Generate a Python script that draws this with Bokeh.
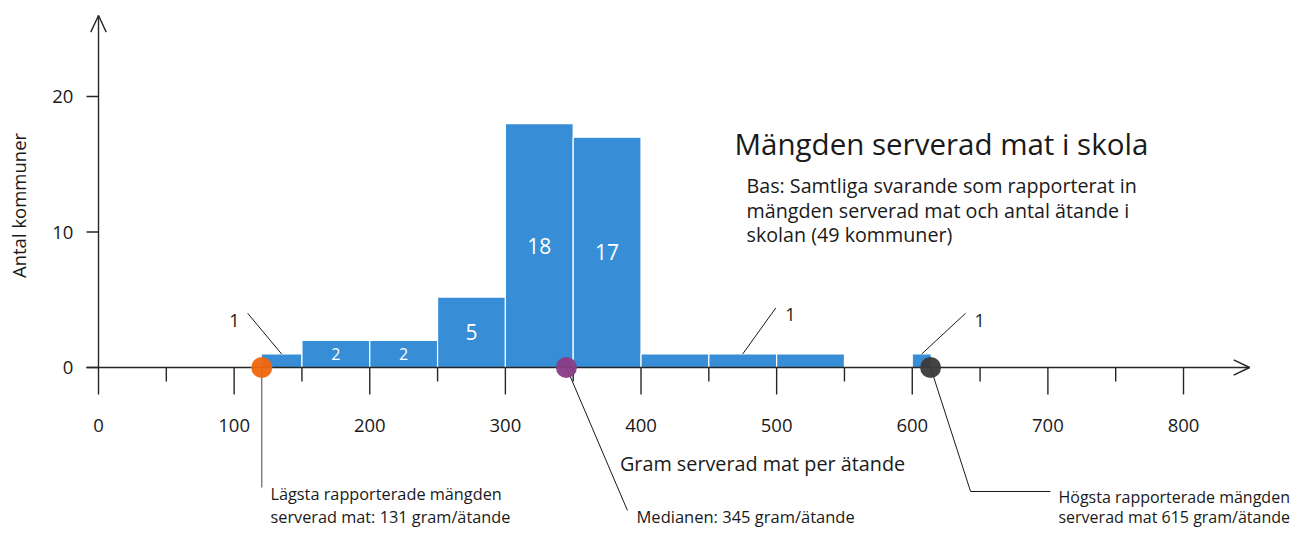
from bokeh.plotting import figure
from bokeh.models import Range1d, ColumnDataSource
from bokeh.embed import file_html
from bokeh.resources import INLINE
from bokeh.core.properties import value

# ---------------- data ----------------
bin_left = [120, 150, 200, 250, 300, 350, 400, 450, 500, 600]
bin_right = [150, 200, 250, 300, 350, 400, 450, 500, 550, 614]
bar_height = [1, 2, 2, 5.2, 18, 17, 1, 1, 1, 1]
bar_label = ["", "2", "2", "5", "18", "17", "", "", "", ""]
bar_label_size = ["16px", "16px", "16px", "21px", "21px", "21px", "16px", "16px", "16px", "16px"]

callout_bars = [0, 7, 9]
callout_text = ["1", "1", "1"]

marker_x = [120.4, 345, 613.5]
marker_color = ["#F0660C", "#883D86", "#3A3A3A"]

x_major = [0, 100, 200, 300, 400, 500, 600, 700, 800]
x_minor = [50, 150, 250, 350, 450, 550, 650, 750]
y_ticks = [0, 10, 20]

title = "Mängden serverad mat i skola"
subtitle = ["Bas: Samtliga svarande som rapporterat in",
            "mängden serverad mat och antal ätande i",
            "skolan (49 kommuner)"]
x_title = "Gram serverad mat per ätande"
y_title = "Antal kommuner"
note_low = ["Lägsta rapporterade mängden", "serverad mat: 131 gram/ätande"]
note_med = ["Medianen: 345 gram/ätande"]
note_high = ["Högsta rapporterade mängden", "serverad mat 615 gram/ätande"]

FONT = value("Open Sans")
AX = "#262626"
TXT = "#1a1a1a"

W, H = 1295, 531
p = figure(width=W, height=H, output_backend="svg", toolbar_location=None,
           x_range=Range1d(-72.26, 882.57), y_range=Range1d(-12.103, 27.085),
           min_border=0)
p.axis.visible = False
p.grid.visible = False
p.outline_line_color = None
p.background_fill_color = "white"
p.border_fill_color = "white"

# bars
src = ColumnDataSource(dict(left=bin_left, right=bin_right, top=bar_height,
                            bottom=[0] * len(bin_left)))
p.quad(left="left", right="right", top="top", bottom="bottom", source=src,
       fill_color="#378ED6", line_color="white", line_width=1.2)

# bar value labels
lab_x = [(l + r) / 2 for l, r in zip(bin_left, bin_right)]
lab_y = [h / 2 for h in bar_height]
p.text(x=lab_x, y=lab_y, text=bar_label, text_color="white", text_font=FONT,
       text_font_size=bar_label_size, text_align="center", text_baseline="middle")

# axes lines
p.segment(x0=[0, -8.85], y0=[0, 0], x1=[0, 848.7], y1=[25.98, 0],
          line_color=AX, line_width=1.4)
# arrow heads
p.line(x=[-5.7, 0, 5.7], y=[24.75, 25.98, 24.75], line_color=AX, line_width=1.4)
p.line(x=[837.0, 848.7, 837.0], y=[0.57, 0, -0.57], line_color=AX, line_width=1.4)
# y ticks
p.segment(x0=[-8.85] * len(y_ticks), y0=y_ticks, x1=[0] * len(y_ticks), y1=y_ticks,
          line_color=AX, line_width=1.4)
p.text(x=[-18.5] * len(y_ticks), y=y_ticks, text=[str(t) for t in y_ticks],
       text_font=FONT, text_font_size="18.5px", text_color=TXT,
       text_align="right", text_baseline="middle")
# x ticks
p.segment(x0=x_major, y0=[0] * len(x_major), x1=x_major, y1=[-1.99] * len(x_major),
          line_color=AX, line_width=1.4)
p.segment(x0=x_minor, y0=[0] * len(x_minor), x1=x_minor, y1=[-1.03] * len(x_minor),
          line_color=AX, line_width=1.4)
p.text(x=x_major, y=[-4.28] * len(x_major), text=[str(t) for t in x_major],
       text_font=FONT, text_font_size="18.5px", text_color=TXT,
       text_align="center", text_baseline="middle")

# axis titles
p.text(x=[489.6], y=[-7.08], text=[x_title],
       text_font=FONT, text_font_size="19.8px", text_color=TXT,
       text_align="center", text_baseline="middle")
p.text(x=[-59.0], y=[11.96], text=[y_title], angle=1.5708,
       text_font=FONT, text_font_size="18.5px", text_color=TXT,
       text_align="center", text_baseline="middle")

# callouts "1"
dx = [-25.0, 24.4, 32.3]
dy = [3.0, 3.4, 3.0]
tx = [-9.8, 10.8, 10.3]
cx0, cy0, cx1, cy1, lx, ly = [], [], [], [], [], []
for i, b in enumerate(callout_bars):
    bx = (bin_left[b] + bin_right[b]) / 2
    by = bar_height[b]
    cx1.append(bx); cy1.append(by)
    cx0.append(bx + dx[i]); cy0.append(by + dy[i])
    lx.append(bx + dx[i] + tx[i]); ly.append(by + dy[i] - 0.5)
p.segment(x0=cx0, y0=cy0, x1=cx1, y1=cy1, line_color=TXT, line_width=1)
p.text(x=lx, y=ly, text=callout_text, text_font=FONT, text_font_size="18px",
       text_color=TXT, text_align="center", text_baseline="middle")

# marker leader lines
p.line(x=[marker_x[0], marker_x[0]], y=[0, -8.86], line_color="#444444", line_width=1)
p.line(x=[marker_x[1], 390.0], y=[0, -10.55], line_color=TXT, line_width=1)
p.line(x=[marker_x[2], 643.0, 701.9], y=[0, -9.15, -9.15], line_color=TXT, line_width=1)

# markers
p.scatter(x=marker_x, y=[0, 0, 0], size=21, fill_color=marker_color,
          line_color=None, fill_alpha=0.95)

# notes
p.text(x=[126.8, 126.8], y=[-9.37, -11.0], text=note_low, text_font=FONT,
       text_font_size="16.3px", text_color=TXT, text_align="left",
       text_baseline="middle")
p.text(x=[396.7], y=[-11.0], text=note_med, text_font=FONT,
       text_font_size="16.5px", text_color=TXT, text_align="left",
       text_baseline="middle")
p.text(x=[707.8, 707.8], y=[-9.52, -11.0], text=note_high, text_font=FONT,
       text_font_size="16px", text_color=TXT, text_align="left",
       text_baseline="middle")

# title and subtitle
p.text(x=[469.0], y=[16.53], text=[title], text_font=FONT, text_font_size="29.5px",
       text_color=TXT, text_align="left", text_baseline="middle")
p.text(x=[477.8] * 3, y=[13.43, 11.59, 9.82], text=subtitle, text_font=FONT,
       text_font_size="19.7px", text_color=TXT, text_align="left",
       text_baseline="middle")

open("out.html", "w").write(file_html(p, INLINE))
